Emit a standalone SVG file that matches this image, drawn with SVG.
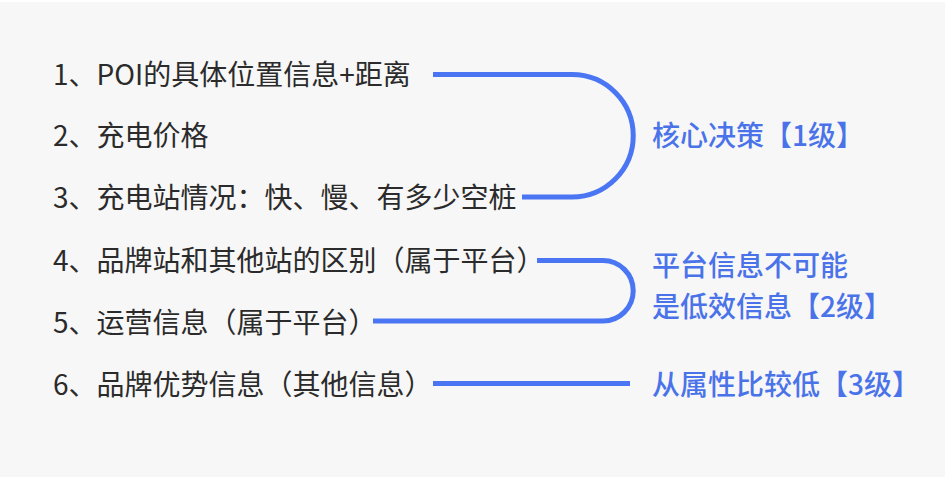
<svg xmlns="http://www.w3.org/2000/svg" width="945" height="477" viewBox="0 0 945 477">
<style>
.t{font-family:"Noto Sans CJK SC","Noto Sans",sans-serif;font-size:28px;fill:#2b2b2b}
.l{font-family:"Noto Sans CJK SC","Noto Sans",sans-serif;font-size:28px;fill:#4a73ea;font-weight:500}
.c{fill:none;stroke:#4a76f3;stroke-width:5}
</style>
<rect width="945" height="477" fill="#f7f7f7"/>
<rect width="945" height="2" fill="#ffffff"/>
<g id="item1"><text class="t" x="53" y="85">1、POI的具体位置信息+距离</text></g>
<g id="item2"><text class="t" x="53" y="146">2、充电价格</text></g>
<g id="item3"><text class="t" x="53" y="208">3、充电站情况：快、慢、有多少空桩</text></g>
<g id="item4"><text class="t" x="53" y="271">4、品牌站和其他站的区别（属于平台）</text></g>
<g id="item5"><text class="t" x="53" y="333">5、运营信息（属于平台）</text></g>
<g id="item6"><text class="t" x="53" y="395">6、品牌优势信息（其他信息）</text></g>
<g id="label1"><text class="l" x="652" y="146">核心决策【1级】</text></g>
<g id="label2"><text class="l" x="652" y="276">平台信息不可能</text><text class="l" x="652" y="317">是低效信息【2级】</text></g>
<g id="label3"><text class="l" x="652" y="395">从属性比较低【3级】</text></g>
<g id="connectors">
<path class="c" d="M433,74.5 H572 A61.25,61.25 0 0 1 572,197 H522"/>
<path class="c" d="M537,260.5 H603 A30.25,30.25 0 0 1 603,321 H373"/>
<path class="c" d="M433,383.5 H630"/>
</g>
</svg>
